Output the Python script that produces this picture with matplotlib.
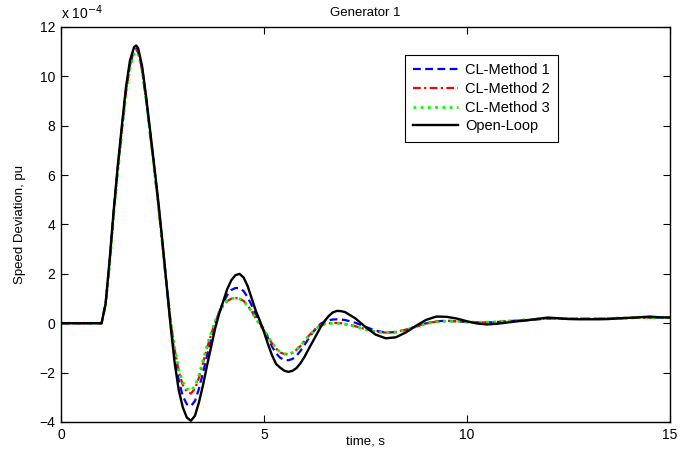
import numpy as np
import matplotlib
matplotlib.use("Agg")
import matplotlib.pyplot as plt

plt.rcParams['font.family'] = ['Liberation Sans', 'DejaVu Sans']

# time axis, s (dense during the swing, coarser in the tail)
time_s = [0.0, 0.5,
          1.0, 1.1, 1.2, 1.3, 1.4, 1.5, 1.6, 1.7, 1.8, 1.85, 1.9,
          2.0, 2.1, 2.2, 2.3, 2.4, 2.5, 2.6, 2.7, 2.8, 2.9,
          3.0, 3.1, 3.2, 3.3, 3.4, 3.5, 3.6, 3.7, 3.8, 3.9,
          4.0, 4.1, 4.2, 4.3, 4.4, 4.5, 4.6, 4.7, 4.8, 4.9,
          5.0, 5.1, 5.2, 5.3, 5.4, 5.5, 5.6, 5.7, 5.8, 5.9,
          6.0, 6.1, 6.2, 6.3, 6.4, 6.5, 6.6, 6.7, 6.8, 6.9,
          7.0, 7.25, 7.5, 7.75, 8.0, 8.25, 8.5, 8.75, 9.0, 9.25,
          9.5, 9.75, 10.0, 10.25, 10.5, 10.75, 11.0, 11.25, 11.5, 11.75,
          12.0, 12.25, 12.5, 12.75, 13.0, 13.25, 13.5, 13.75, 14.0, 14.25,
          14.5, 14.75, 15.0]

# speed deviation, units of 1e-4 pu
cl_method1 = [0.0, 0.0,
              0.0, 0.8, 2.55, 4.55, 6.3, 7.9, 9.4, 10.5, 11.05, 11.12, 11.02,
              10.3, 9.05, 7.65, 6.25, 4.8, 3.2, 1.55, 0.0, -1.3, -2.3,
              -2.95, -3.28, -3.36, -3.15, -2.65, -2.0, -1.3, -0.65, -0.05, 0.45,
              0.85, 1.15, 1.35, 1.43, 1.42, 1.3, 1.05, 0.72, 0.35, 0.0,
              -0.23, -0.6, -0.95, -1.22, -1.4, -1.48, -1.5, -1.45, -1.32, -1.12,
              -0.88, -0.62, -0.38, -0.18, -0.02, 0.07, 0.12, 0.15, 0.16, 0.15,
              0.13, 0.02, -0.14, -0.3, -0.38, -0.36, -0.27, -0.13, 0.0, 0.08,
              0.1, 0.08, 0.05, 0.03, 0.03, 0.05, 0.08, 0.11, 0.13, 0.16,
              0.19, 0.19, 0.18, 0.18, 0.18, 0.18, 0.19, 0.2, 0.21, 0.22,
              0.23, 0.23, 0.23]

cl_method2 = [0.0, 0.0,
              0.0, 0.78, 2.5, 4.5, 6.25, 7.85, 9.35, 10.45, 11.0, 11.07, 10.98,
              10.25, 9.0, 7.62, 6.22, 4.78, 3.2, 1.6, 0.1, -1.05, -1.95,
              -2.5, -2.77, -2.85, -2.65, -2.2, -1.6, -1.0, -0.45, 0.05, 0.45,
              0.72, 0.9, 1.0, 1.02, 1.0, 0.9, 0.72, 0.48, 0.2, -0.06,
              -0.28, -0.55, -0.82, -1.03, -1.18, -1.25, -1.26, -1.2, -1.08, -0.92,
              -0.72, -0.52, -0.34, -0.19, -0.08, -0.02, 0.0, 0.01, 0.01, 0.0,
              -0.03, -0.12, -0.24, -0.34, -0.38, -0.35, -0.26, -0.13, -0.01, 0.07,
              0.09, 0.08, 0.05, 0.03, 0.03, 0.05, 0.08, 0.11, 0.13, 0.16,
              0.19, 0.19, 0.18, 0.18, 0.18, 0.18, 0.19, 0.2, 0.21, 0.22,
              0.23, 0.23, 0.23]

cl_method3 = [0.0, 0.0,
              0.0, 0.75, 2.4, 4.4, 6.15, 7.75, 9.25, 10.35, 10.9, 11.0, 10.93,
              10.25, 9.0, 7.6, 6.2, 4.75, 3.15, 1.55, 0.1, -0.98, -1.85,
              -2.38, -2.65, -2.74, -2.55, -2.1, -1.5, -0.9, -0.38, 0.1, 0.48,
              0.74, 0.92, 1.0, 1.02, 0.99, 0.88, 0.7, 0.46, 0.19, -0.07,
              -0.29, -0.55, -0.81, -1.02, -1.17, -1.24, -1.25, -1.19, -1.07, -0.91,
              -0.72, -0.52, -0.35, -0.2, -0.09, -0.03, -0.01, 0.0, 0.0, -0.01,
              -0.04, -0.13, -0.25, -0.35, -0.39, -0.36, -0.27, -0.14, -0.02, 0.06,
              0.09, 0.08, 0.05, 0.04, 0.04, 0.06, 0.09, 0.12, 0.14, 0.17,
              0.2, 0.2, 0.19, 0.19, 0.19, 0.19, 0.2, 0.21, 0.22, 0.23,
              0.23, 0.23, 0.23]

open_loop = [0.0, 0.0,
             0.0, 0.8, 2.6, 4.6, 6.4, 8.0, 9.55, 10.65, 11.18, 11.25, 11.15,
             10.4, 9.15, 7.75, 6.35, 4.9, 3.3, 1.6, -0.1, -1.6, -2.7,
             -3.4, -3.82, -3.95, -3.75, -3.2, -2.5, -1.7, -0.95, -0.2, 0.4,
             0.9, 1.4, 1.75, 1.95, 2.0, 1.85, 1.5, 1.0, 0.5, 0.1,
             -0.35, -0.85, -1.3, -1.65, -1.8, -1.92, -1.97, -1.93, -1.82, -1.62,
             -1.36, -1.05, -0.75, -0.45, -0.15, 0.1, 0.3, 0.44, 0.5, 0.49,
             0.45, 0.2, -0.15, -0.46, -0.61, -0.57, -0.37, -0.1, 0.14, 0.27,
             0.26, 0.19, 0.08, -0.01, -0.05, -0.02, 0.03, 0.08, 0.12, 0.18,
             0.23, 0.2, 0.17, 0.16, 0.16, 0.16, 0.17, 0.2, 0.22, 0.24,
             0.27, 0.24, 0.23]

fig = plt.figure(figsize=(6.97, 4.63), dpi=100)
ax = fig.add_axes([0.0875, 0.0886, 0.8735, 0.8531])

ax.plot(time_s, cl_method1, color='#0000ff', ls=(0, (3.5, 2.0)), lw=1.6, label='CL-Method 1')
ax.plot(time_s, cl_method2, color='#ff0000', ls=(0, (3.5, 1.5, 1.0, 1.5)), lw=1.6, label='CL-Method 2')
ax.plot(time_s, cl_method3, color='#00ff00', ls=(0, (1.0, 1.6)), lw=2.0, label='CL-Method 3')
ax.plot(time_s, open_loop, color='black', lw=1.7, label='Open-Loop')

ax.set_xlim(0, 15)
ax.set_ylim(-4, 12)
ax.set_xticks([0, 5, 10, 15])
ax.set_yticks(np.arange(-4, 13, 2))
ax.tick_params(direction='in', top=True, right=True, length=5, labelsize=10, pad=4)
for sp in ax.spines.values():
    sp.set_linewidth(1.0)

ax.set_title('Generator 1', fontsize=9.5, pad=8)
ax.set_xlabel('time, s', fontsize=9.5, labelpad=-4)
ax.set_ylabel('Speed Deviation, pu', fontsize=9.5, labelpad=10)
ax.text(0.0, 1.012, 'x 10$^{-4}$', transform=ax.transAxes, fontsize=10,
        ha='left', va='bottom')

leg = ax.legend(loc='upper left', bbox_to_anchor=(0.565, 0.929), borderaxespad=0,
                fontsize=10.5, fancybox=False, edgecolor='black', framealpha=1,
                handlelength=3.1, handletextpad=0.5, labelspacing=0.33, borderpad=0.55)
leg.get_frame().set_linewidth(0.8)

fig.savefig('out.png', dpi=100)
